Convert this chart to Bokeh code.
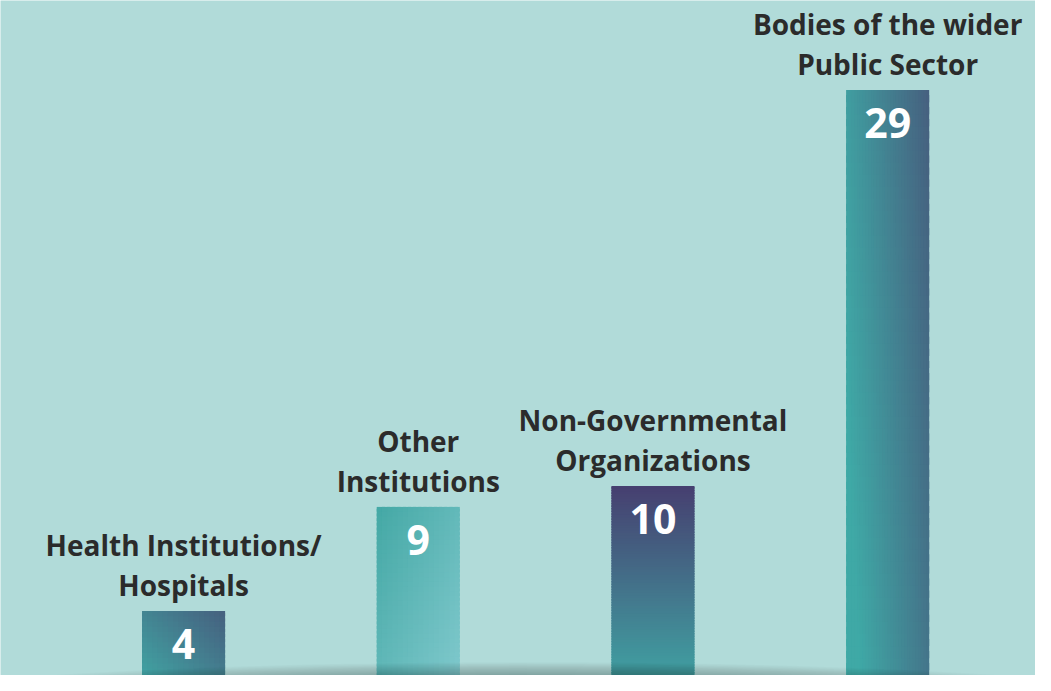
import numpy as np
from bokeh.plotting import figure
from bokeh.models import ColumnDataSource
from bokeh.core.properties import value
from bokeh.embed import file_html
from bokeh.resources import INLINE

# ---- data ----
label_line1 = ["Health Institutions/", "Other", "Non-Governmental", "Bodies of the wider"]
label_line2 = ["Hospitals", "Institutions", "Organizations", "Public Sector"]
values = [4, 9, 10, 29]
value_labels = ["4", "9", "10", "29"]

# ---- styles ----
BG = "#b1dbd9"
grad_start = ["#40aaa6", "#44a8a5", "#40a9a6", "#3fa9a6"]
grad_end = ["#46607f", "#82cace", "#463f70", "#46607f"]
# t = ku*u + kv*v + k0  (u: left->right, v: bottom->top)
grad_k = [(0.5, 0.5, 0.0), (0.5, -0.5, 0.5), (0.0, 1.0, 0.0), (0.85, 0.3, -0.15)]
grid = [(16, 16), (16, 40), (1, 80), (30, 50)]
BAR_W = 0.354
FONT = "Open Sans"


def hex2rgb(h):
    h = h.lstrip("#")
    return np.array([int(h[i:i + 2], 16) for i in (0, 2, 4)], dtype=float)


def lerp(c0, c1, t):
    c = hex2rgb(c0) * (1 - t) + hex2rgb(c1) * t
    return "#%02x%02x%02x" % tuple(int(round(x)) for x in c)


p = figure(width=1035, height=675, x_range=(-0.780, 3.630), y_range=(0.91, 33.30),
           output_backend="svg", toolbar_location=None,
           background_fill_color=BG, border_fill_color=BG,
           outline_line_color=None, min_border=0)
p.axis.visible = False
p.grid.visible = False

xs = list(range(len(values)))

# gradient bars built from small overlapping cells
L, R, B, T, C = [], [], [], [], []
for i, v in enumerate(values):
    nx, ny = grid[i]
    ku, kv, k0 = grad_k[i]
    x0 = xs[i] - BAR_W / 2
    for a in range(nx):
        for b in range(ny):
            u = (a + 0.5) / nx
            w = (b + 0.5) / ny
            t = min(max(ku * u + kv * w + k0, 0.0), 1.0)
            L.append(x0 + BAR_W * a / nx)
            R.append(min(x0 + BAR_W * (a + 1.6) / nx, x0 + BAR_W))
            B.append(v * b / ny)
            T.append(min(v * (b + 1.6) / ny, v))
            C.append(lerp(grad_start[i], grad_end[i], t))

cells = ColumnDataSource(dict(left=L, right=R, bottom=B, top=T, color=C))
p.quad(left="left", right="right", bottom="bottom", top="top", source=cells,
       fill_color="color", line_color=None)

# bottom shadow (stacked translucent ellipses)
n_sh = 40
sh = ColumnDataSource(dict(
    x=[1.457] * n_sh, y=[-0.3] * n_sh,
    w=list(np.linspace(5.4, 1.6, n_sh)), h=list(np.linspace(3.7, 0.6, n_sh))))
p.ellipse(x="x", y="y", width="w", height="h", source=sh,
          fill_color="black", fill_alpha=0.014, line_color=None)

src = ColumnDataSource(dict(x=xs, y=values, l1=label_line1, l2=label_line2, vl=value_labels))

p.text(x="x", y="y", text="l1", source=src, text_align="center", text_baseline="middle",
       y_offset=-66, text_font=value(FONT), text_font_style="bold",
       text_font_size="28px", text_color="#2b2b2b")
p.text(x="x", y="y", text="l2", source=src, text_align="center", text_baseline="middle",
       y_offset=-26, text_font=value(FONT), text_font_style="bold",
       text_font_size="28px", text_color="#2b2b2b")
p.text(x="x", y="y", text="vl", source=src, text_align="center", text_baseline="middle",
       y_offset=33, text_font=value(FONT), text_font_style="bold",
       text_font_size="41px", text_color="white")

open("out.html", "w").write(file_html(p, INLINE))
